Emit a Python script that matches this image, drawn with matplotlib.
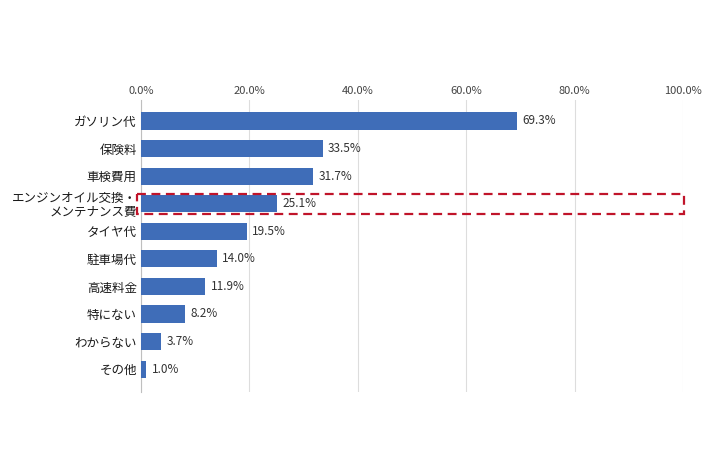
import matplotlib
matplotlib.use("Agg")
import matplotlib.pyplot as plt
from matplotlib.patches import Rectangle
from matplotlib.ticker import FuncFormatter

plt.rcParams['font.family'] = ['Noto Sans CJK JP', 'DejaVu Sans']

categories = ["ガソリン代", "保険料", "車検費用", "エンジンオイル交換・\nメンテナンス費", "タイヤ代",
              "駐車場代", "高速料金", "特にない", "わからない", "その他"]
values = [69.3, 33.5, 31.7, 25.1, 19.5, 14.0, 11.9, 8.2, 3.7, 1.0]
xticks = [0, 20, 40, 60, 80, 100]
highlight_index = 3

fig = plt.figure(figsize=(7.10, 4.74), dpi=100)
ax = fig.add_axes([141/710, 1-392/474, (683-141)/710, (392-100)/474])

bar_color = "#3F6DB8"
ypos = list(range(len(categories)))
ax.barh(ypos, values, height=0.62, color=bar_color, zorder=3)
for y, v in zip(ypos, values):
    ax.text(v + 1.0, y, f"{v:.1f}%", va="center", ha="left", fontsize=8.5, color="#333333", zorder=4)

ax.set_xlim(0, 100)
ax.set_ylim(9.83, -0.76)
ax.set_yticks(ypos)
ax.set_yticklabels(categories, fontsize=9, color="#1a1a1a", linespacing=1.0)
ax.set_xticks(xticks)
ax.xaxis.set_major_formatter(FuncFormatter(lambda x, p: f"{x:.1f}%"))
ax.xaxis.tick_top()
ax.tick_params(axis="x", length=0, labelsize=8, colors="#444444", pad=3)
ax.tick_params(axis="y", length=0, pad=3)
ax.grid(axis="x", color="#DDDDDD", linewidth=0.8, zorder=0)
for s in ["top", "right", "bottom"]:
    ax.spines[s].set_visible(False)
ax.spines["left"].set_color("#BFBFBF")
ax.spines["left"].set_linewidth(0.8)

rect = Rectangle((-0.74, highlight_index - 0.35), 100.94, 0.72, fill=False,
                 edgecolor="#C0142A", linestyle=(0, (4, 2.5)), linewidth=1.6,
                 clip_on=False, zorder=5)
ax.add_patch(rect)

fig.savefig("out.png", dpi=100, facecolor="white")
